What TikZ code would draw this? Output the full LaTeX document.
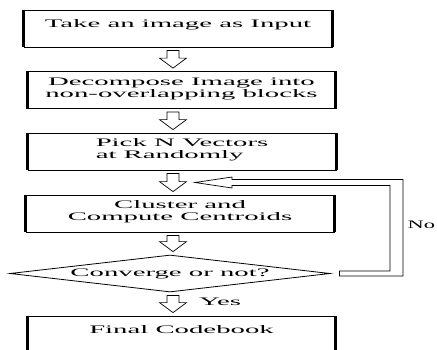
\documentclass[tikz,border=0pt]{standalone}
\usepackage{fontspec}
\setmainfont{Liberation Serif}[FakeStretch=2.5]
\newfontfamily\narrowserif{Liberation Serif}[FakeStretch=1.95]
\usetikzlibrary{shapes.geometric,calc}

\tikzstyle{block} = [draw, rectangle, line width=0.8pt, minimum width=308pt, minimum height=37pt, inner sep=0pt, align=center, text height=20pt, text depth=5.4pt, font=\fontsize{11.5}{12}\selectfont]
\tikzstyle{oneline} = [text height=8pt, text depth=9.4pt]
\tikzstyle{decision} = [draw, diamond, aspect=8.6, line width=0.8pt, minimum width=320pt, minimum height=37pt, inner sep=0pt, font=\fontsize{11.5}{12}\selectfont]
\tikzstyle{branchtext} = [inner sep=0pt, font=\fontsize{11.5}{12}\selectfont]
\tikzstyle{hollow} = [draw, line width=0.7pt, fill=white, line join=miter]
\tikzstyle{side} = [line width=3pt]

% hollow block arrow from one box down to the next
\newcommand{\hollowdown}[2]{%
	\draw [hollow] let \p1=(#1.south), \p2=(#2.north), \p3=(spine) in
		(\x3-6pt,\y1-3pt) -- (\x3+6pt,\y1-3pt) -- (\x3+6pt,\y2+13pt) -- (\x3+13.5pt,\y2+13pt)
		-- (\x3,\y2+3pt) -- (\x3-13.5pt,\y2+13pt) -- (\x3-6pt,\y2+13pt) -- cycle;}

\begin{document}
\begin{tikzpicture}[x=1pt, y=-1pt]
	\useasboundingbox (0,0) rectangle (437,349);
	\coordinate (spine) at (173,0);

	\node [block, oneline] (take_input) at (178,28.5) {Take an image as Input};
	\node [block] (decompose) at (181.5,90) {Decompose Image into\\non-overlapping blocks};
	\node [block, align=left] (pick_vectors) at (182,151.5) {Pick N Vectors\\at Randomly};
	\node [block] (cluster) at (180,213.5) {Cluster and\\Compute Centroids};
	\node [decision] (converge) at (170,273.5) {Converge or not?};
	\node [block, oneline] (codebook) at (181.5,334.5) {Final Codebook};

	% thick left and right sides
	\foreach \n in {take_input,decompose,pick_vectors,cluster,codebook}
		\draw [side] (\n.north west) -- (\n.south west) (\n.north east) -- (\n.south east);

	\hollowdown{take_input}{decompose}
	\hollowdown{decompose}{pick_vectors}
	\hollowdown{pick_vectors}{cluster}
	\hollowdown{cluster}{converge}
	\hollowdown{converge}{codebook}

	% No: back to clustering
	\draw [hollow] let \p1=(converge.east), \p2=($(pick_vectors.south)!0.5!(cluster.north)$), \p3=(spine) in
		(\x1+9pt,\y1+2.5pt) -- (390pt,\y1+2.5pt) -- (390pt,\y2-3pt) -- (\x3+59pt,\y2-3pt) -- (\x3+59pt,\y2-5.5pt)
		-- (\x3+22pt,\y2) -- (\x3+59pt,\y2+5.5pt) -- (\x3+59pt,\y2+3pt) -- (403pt,\y2+3pt)
		-- (403pt,\y1-2.5pt) -- (\x1+9pt,\y1-2.5pt) -- cycle;
	\node [branchtext, anchor=west, font=\fontsize{11.5}{12}\narrowserif] (no) at (407.5,225) {No};

	% Yes
	\node [branchtext, anchor=west] (yes) at (199,302) {Yes};
\end{tikzpicture}
\end{document}
